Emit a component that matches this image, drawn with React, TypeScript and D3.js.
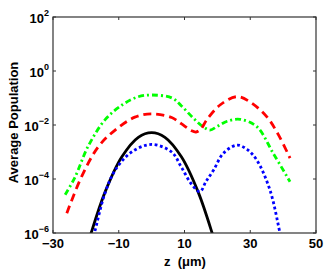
import React from "react";
import * as d3 from "d3";

const xTicks = [-30, -10, 10, 30, 50];
const yTickExps = [2, 0, -2, -4, -6];

const greenZ = [-26.3, -23.3, -19.4, -14.2, -9.0, -4.2, 0, 6.2, 9, 12.5, 15.5, 17.75, 20, 23, 26.9, 32, 37, 42.1];
const greenV = [2.6e-5, 1.17e-4, 1.55e-3, 1.55e-2, 5.5e-2, 0.11, 0.129, 0.1, 5.2e-2, 1.9e-2, 8.9e-3, 6.5e-3, 8.9e-3, 1.38e-2, 1.62e-2, 8.7e-3, 8.9e-4, 7.9e-5];

const redZ = [-25.8, -21.3, -16.2, -11.1, -5.1, 0, 6.1, 9, 12, 13.5, 15, 16.75, 20.8, 25.9, 29.9, 35, 38.5, 42.1];
const redV = [5.4e-6, 1.23e-4, 1.58e-3, 6.5e-3, 1.95e-2, 2.57e-2, 1.9e-2, 1.12e-2, 6.3e-3, 5.5e-3, 7.1e-3, 1.55e-2, 5.5e-2, 0.112, 7.2e-2, 2.04e-2, 4.5e-3, 5.9e-4];

const blackZ = [-19.5, -18.4, -14.2, -9.1, -4.05, 0, 4.05, 9.1, 14.2, 18.4, 19.5];
const blackV = [3.5e-7, 1e-6, 3.2e-5, 6.5e-4, 3.5e-3, 5.2e-3, 3.5e-3, 6.5e-4, 3.2e-5, 1e-6, 3.5e-7];

const blueZ = [-18.5, -17.4, -14.2, -11.1, -6.1, 0, 6.1, 9, 12.2, 14.7, 16.5, 18.8, 21.8, 25.9, 29, 32, 36, 39.05, 40];
const blueV = [3.2e-7, 1e-6, 2.95e-5, 2.1e-4, 1.0e-3, 1.9e-3, 1.0e-3, 2.8e-4, 6.3e-5, 3.4e-5, 7.9e-5, 2.1e-4, 8.9e-4, 1.8e-3, 1.26e-3, 5e-4, 3.9e-5, 1e-6, 3.2e-7];

const W = 329, H = 272;
const L = 53, R = 316, T = 17, B = 233;

export default function App() {
  const x = d3.scaleLinear().domain([-30, 50]).range([L, R]);
  const y = d3.scaleLog().domain([1e-6, 1e2]).range([B, T]);
  const mk = (zs: number[], vs: number[]) =>
    d3.line<number>().x((_, i) => x(zs[i])).y((_, i) => y(vs[i])).curve(d3.curveCatmullRom.alpha(0.5))(zs) || "";
  const font = "Liberation Sans, Arial, sans-serif";
  return (
    <svg width={W} height={H} style={{ position: "absolute", left: 0, top: 0 }} fontFamily={font}>
      <rect x={0} y={0} width={W} height={H} fill="#fff" />
      <defs>
        <clipPath id="pc"><rect x={L} y={T} width={R - L} height={B - T} /></clipPath>
      </defs>
      <g clipPath="url(#pc)" fill="none" strokeWidth={2.8}>
        <path d={mk(greenZ, greenV)} stroke="#00ff00" strokeDasharray="6 3 2 3" />
        <path d={mk(redZ, redV)} stroke="#ff0000" strokeDasharray="8 5" />
        <path d={mk(blackZ, blackV)} stroke="#000" />
        <path d={mk(blueZ, blueV)} stroke="#0000ff" strokeDasharray="2.8 2.6" />
      </g>
      <rect x={L} y={T} width={R - L} height={B - T} fill="none" stroke="#333" strokeWidth={1.2} />
      {xTicks.map((t) => (
        <g key={t}>
          <line x1={x(t)} x2={x(t)} y1={B} y2={B - 3} stroke="#333" />
          <line x1={x(t)} x2={x(t)} y1={T} y2={T + 3} stroke="#333" />
          <text x={x(t)} y={248} textAnchor="middle" fontSize={13} fontWeight="bold">{t < 0 ? "\u2212" + Math.abs(t) : t}</text>
        </g>
      ))}
      {yTickExps.map((e) => (
        <g key={e}>
          <line x1={L} x2={L + 3} y1={y(Math.pow(10, e))} y2={y(Math.pow(10, e))} stroke="#333" />
          <line x1={R} x2={R - 3} y1={y(Math.pow(10, e))} y2={y(Math.pow(10, e))} stroke="#333" />
          <text x={L - 4} y={y(Math.pow(10, e)) + 6} textAnchor="end" fontSize={13} fontWeight="bold">
            10<tspan dy={-7} fontSize={9}>{e < 0 ? "\u2212" + Math.abs(e) : e}</tspan>
          </text>
        </g>
      ))}
      <text x={185} y={266} textAnchor="middle" fontSize={13} fontWeight="bold" xmlSpace="preserve">z  (μm)</text>
      <text transform={`translate(18,122.5) rotate(-90)`} textAnchor="middle" fontSize={13} fontWeight="bold">Average Population</text>
    </svg>
  );
}
